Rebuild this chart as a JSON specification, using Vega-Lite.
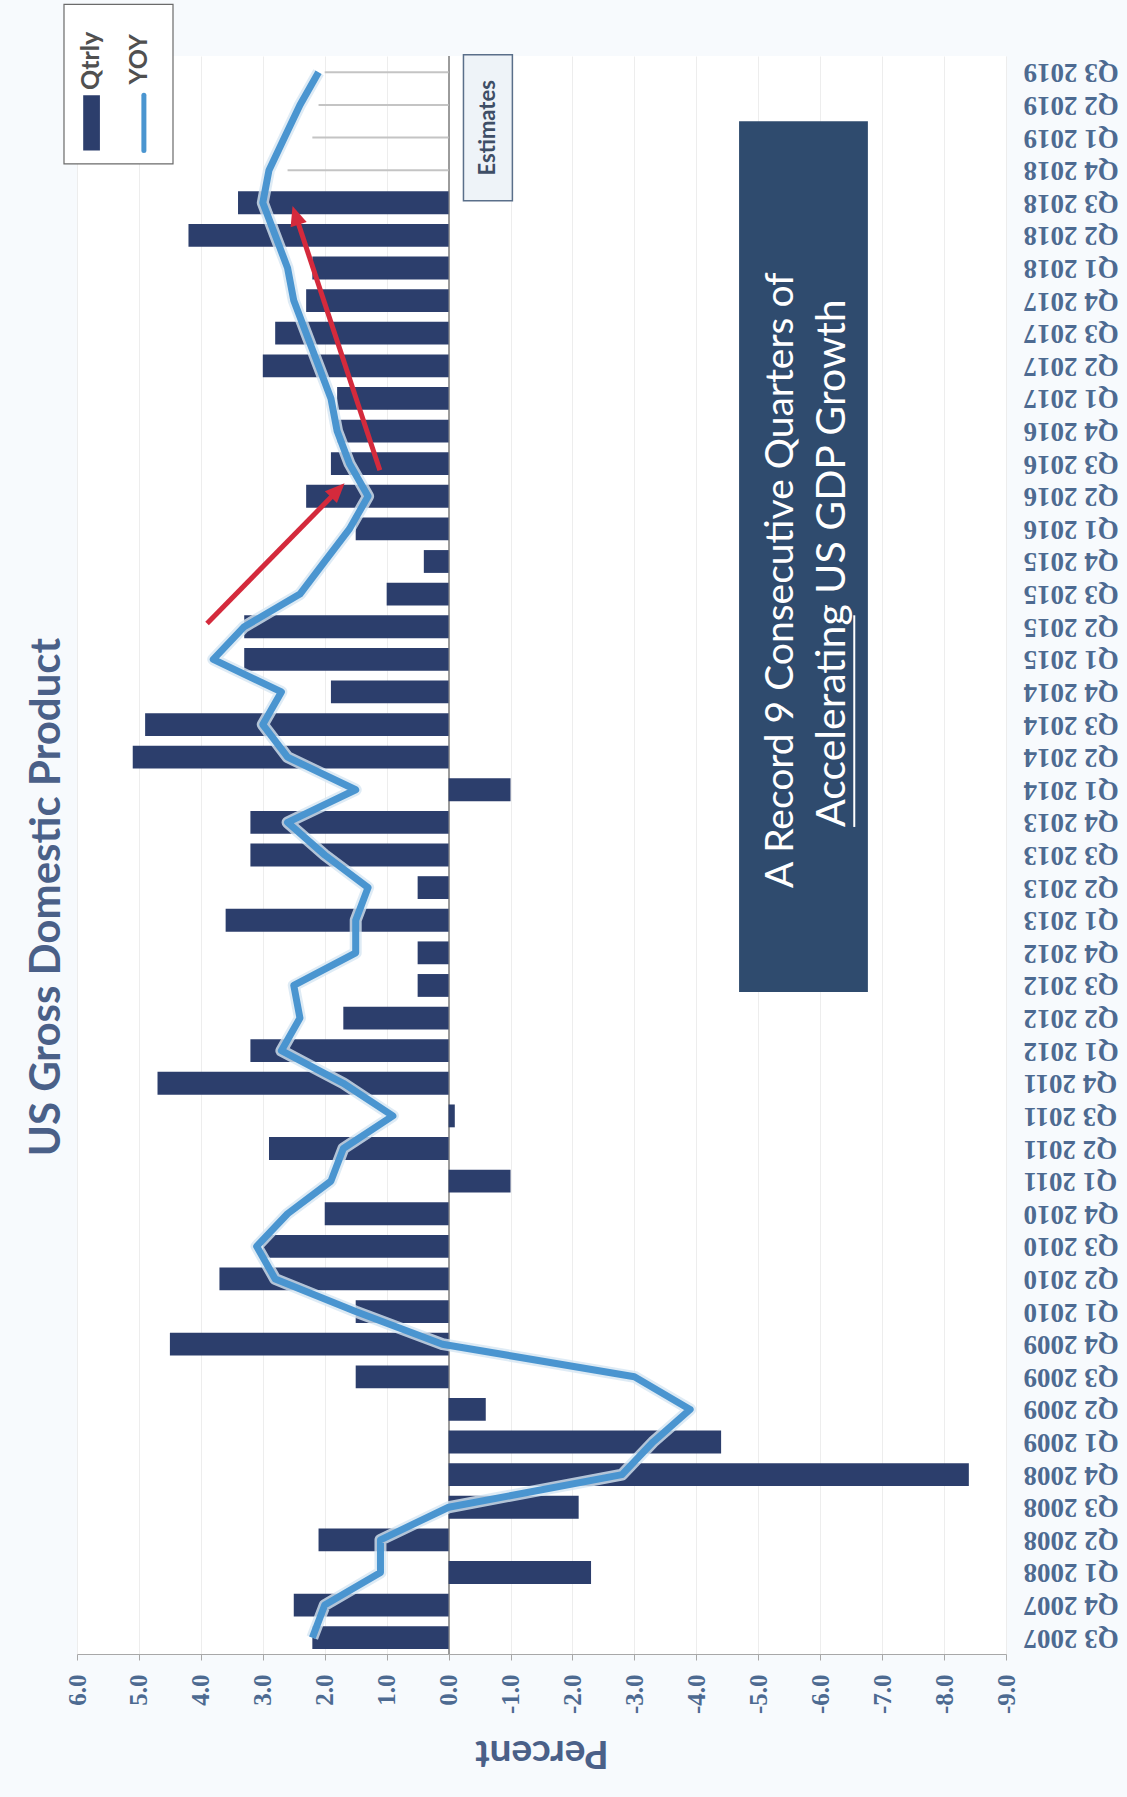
{
  "$schema": "https://vega.github.io/schema/vega-lite/v6.json",
  "width": 929,
  "height": 1598,
  "autosize": "none",
  "padding": {"left": 77, "top": 56, "right": 121, "bottom": 143},
  "background": "#F7FAFD",
  "config": {"view": {"fill": "white", "stroke": null}},
  "title": {
    "text": "US Gross Domestic Product",
    "orient": "left",
    "anchor": "middle",
    "font": "Lato",
    "fontSize": 42,
    "fontWeight": "bold",
    "color": "#4A6088",
    "offset": -6,
    "dx": -42
  },
  "datasets": {
    "gdp": [
      {"idx": 0, "quarter": "Q3 2007", "qtrly": 2.2, "yoy": 2.2},
      {"idx": 1, "quarter": "Q4 2007", "qtrly": 2.5, "yoy": 2.0},
      {"idx": 2, "quarter": "Q1 2008", "qtrly": -2.3, "yoy": 1.1},
      {"idx": 3, "quarter": "Q2 2008", "qtrly": 2.1, "yoy": 1.1},
      {"idx": 4, "quarter": "Q3 2008", "qtrly": -2.1, "yoy": 0.0},
      {"idx": 5, "quarter": "Q4 2008", "qtrly": -8.4, "yoy": -2.8},
      {"idx": 6, "quarter": "Q1 2009", "qtrly": -4.4, "yoy": -3.3},
      {"idx": 7, "quarter": "Q2 2009", "qtrly": -0.6, "yoy": -3.9},
      {"idx": 8, "quarter": "Q3 2009", "qtrly": 1.5, "yoy": -3.0},
      {"idx": 9, "quarter": "Q4 2009", "qtrly": 4.5, "yoy": 0.1},
      {"idx": 10, "quarter": "Q1 2010", "qtrly": 1.5, "yoy": 1.5},
      {"idx": 11, "quarter": "Q2 2010", "qtrly": 3.7, "yoy": 2.8},
      {"idx": 12, "quarter": "Q3 2010", "qtrly": 3.0, "yoy": 3.1},
      {"idx": 13, "quarter": "Q4 2010", "qtrly": 2.0, "yoy": 2.6},
      {"idx": 14, "quarter": "Q1 2011", "qtrly": -1.0, "yoy": 1.9},
      {"idx": 15, "quarter": "Q2 2011", "qtrly": 2.9, "yoy": 1.7},
      {"idx": 16, "quarter": "Q3 2011", "qtrly": -0.1, "yoy": 0.9},
      {"idx": 17, "quarter": "Q4 2011", "qtrly": 4.7, "yoy": 1.7},
      {"idx": 18, "quarter": "Q1 2012", "qtrly": 3.2, "yoy": 2.7},
      {"idx": 19, "quarter": "Q2 2012", "qtrly": 1.7, "yoy": 2.4},
      {"idx": 20, "quarter": "Q3 2012", "qtrly": 0.5, "yoy": 2.5},
      {"idx": 21, "quarter": "Q4 2012", "qtrly": 0.5, "yoy": 1.5},
      {"idx": 22, "quarter": "Q1 2013", "qtrly": 3.6, "yoy": 1.5},
      {"idx": 23, "quarter": "Q2 2013", "qtrly": 0.5, "yoy": 1.3},
      {"idx": 24, "quarter": "Q3 2013", "qtrly": 3.2, "yoy": 2.0},
      {"idx": 25, "quarter": "Q4 2013", "qtrly": 3.2, "yoy": 2.6},
      {"idx": 26, "quarter": "Q1 2014", "qtrly": -1.0, "yoy": 1.5},
      {"idx": 27, "quarter": "Q2 2014", "qtrly": 5.1, "yoy": 2.6},
      {"idx": 28, "quarter": "Q3 2014", "qtrly": 4.9, "yoy": 3.0},
      {"idx": 29, "quarter": "Q4 2014", "qtrly": 1.9, "yoy": 2.7},
      {"idx": 30, "quarter": "Q1 2015", "qtrly": 3.3, "yoy": 3.8},
      {"idx": 31, "quarter": "Q2 2015", "qtrly": 3.3, "yoy": 3.3},
      {"idx": 32, "quarter": "Q3 2015", "qtrly": 1.0, "yoy": 2.4},
      {"idx": 33, "quarter": "Q4 2015", "qtrly": 0.4, "yoy": 2.0},
      {"idx": 34, "quarter": "Q1 2016", "qtrly": 1.5, "yoy": 1.6},
      {"idx": 35, "quarter": "Q2 2016", "qtrly": 2.3, "yoy": 1.3},
      {"idx": 36, "quarter": "Q3 2016", "qtrly": 1.9, "yoy": 1.6},
      {"idx": 37, "quarter": "Q4 2016", "qtrly": 1.8, "yoy": 1.8},
      {"idx": 38, "quarter": "Q1 2017", "qtrly": 1.8, "yoy": 1.9},
      {"idx": 39, "quarter": "Q2 2017", "qtrly": 3.0, "yoy": 2.1},
      {"idx": 40, "quarter": "Q3 2017", "qtrly": 2.8, "yoy": 2.3},
      {"idx": 41, "quarter": "Q4 2017", "qtrly": 2.3, "yoy": 2.5},
      {"idx": 42, "quarter": "Q1 2018", "qtrly": 2.2, "yoy": 2.6},
      {"idx": 43, "quarter": "Q2 2018", "qtrly": 4.2, "yoy": 2.8},
      {"idx": 44, "quarter": "Q3 2018", "qtrly": 3.4, "yoy": 3.0},
      {"idx": 45, "quarter": "Q4 2018", "qtrly": null, "yoy": 2.9, "est": 2.6},
      {"idx": 46, "quarter": "Q1 2019", "qtrly": null, "yoy": 2.65, "est": 2.2},
      {"idx": 47, "quarter": "Q2 2019", "qtrly": null, "yoy": 2.4, "est": 2.1},
      {"idx": 48, "quarter": "Q3 2019", "qtrly": null, "yoy": 2.1, "est": 2.0}
    ]
  },
  "layer": [
    {
      "data": {"name": "gdp"},
      "layer": [
        {
          "mark": {"type": "rule", "color": "#9C9C9C", "strokeWidth": 1.2},
          "encoding": {
            "x": {"datum": 0, "type": "quantitative", "title": "Percent",
                  "scale": {"domain": [-9, 6], "reverse": true, "nice": false, "zero": false}}
          }
        },
        {
          "transform": [{"filter": "isValid(datum.est)"}],
          "mark": {"type": "rule", "color": "#C4C4C4", "strokeWidth": 2},
          "encoding": {
            "y": {"field": "quarter", "type": "nominal"},
            "x": {"field": "est", "type": "quantitative", "title": "Percent",
                  "scale": {"domain": [-9, 6], "reverse": true, "nice": false, "zero": false}},
            "x2": {"datum": 0}
          }
        },
        {
          "transform": [{"filter": "isValid(datum.qtrly)"}],
          "mark": {"type": "bar", "color": "#2C3E6C"},
          "encoding": {
            "y": {
              "field": "quarter",
              "type": "nominal",
              "scale": {
                "domain": ["Q3 2019", "Q2 2019", "Q1 2019", "Q4 2018", "Q3 2018", "Q2 2018", "Q1 2018",
                           "Q4 2017", "Q3 2017", "Q2 2017", "Q1 2017", "Q4 2016", "Q3 2016", "Q2 2016", "Q1 2016",
                           "Q4 2015", "Q3 2015", "Q2 2015", "Q1 2015", "Q4 2014", "Q3 2014", "Q2 2014", "Q1 2014",
                           "Q4 2013", "Q3 2013", "Q2 2013", "Q1 2013", "Q4 2012", "Q3 2012", "Q2 2012", "Q1 2012",
                           "Q4 2011", "Q3 2011", "Q2 2011", "Q1 2011", "Q4 2010", "Q3 2010", "Q2 2010", "Q1 2010",
                           "Q4 2009", "Q3 2009", "Q2 2009", "Q1 2009", "Q4 2008", "Q3 2008", "Q2 2008", "Q1 2008",
                           "Q4 2007", "Q3 2007"],
                "paddingInner": 0.3,
                "paddingOuter": 0.15
              },
              "axis": {
                "orient": "right",
                "title": null,
                "domain": false,
                "ticks": false,
                "labelAngle": 180,
                "labelAlign": "right",
                "labelBaseline": "middle",
                "labelPadding": 17,
                "labelFont": "Liberation Serif",
                "labelFontWeight": "bold",
                "labelFontSize": 27,
                "labelColor": "#4D6A91"
              }
            },
            "x": {
              "field": "qtrly",
              "type": "quantitative",
              "title": "Percent",
              "scale": {"domain": [-9, 6], "reverse": true, "nice": false, "zero": false},
              "axis": {
                "values": [-9, -8, -7, -6, -5, -4, -3, -2, -1, 0, 1, 2, 3, 4, 5, 6],
                "labelExpr": "replace(format(datum.value, '.1f'), '\u2212', '-')",
                "labelAngle": 270,
                "labelFont": "Liberation Serif",
                "labelFontWeight": "bold",
                "labelFontSize": 25,
                "labelColor": "#4D6A91",
                "labelPadding": 14,
                "tickSize": 6,
                "tickColor": "#A8A8A8",
                "domainColor": "#A8A8A8",
                "grid": true,
                "gridColor": "#EDEDED",
                "titleAngle": 180,
                "titleBaseline": "bottom",
                "titleFont": "Lato",
                "titleFontSize": 39,
                "titleFontWeight": "bold",
                "titleColor": "#4A6088",
                "titlePadding": 19
              }
            }
          }
        },
        {
          "mark": {"type": "line", "color": "#D6E6F3", "strokeWidth": 12, "strokeJoin": "round", "opacity": 0.8},
          "encoding": {
            "y": {"field": "quarter", "type": "nominal"},
            "x": {"field": "yoy", "type": "quantitative", "title": "Percent",
                  "scale": {"domain": [-9, 6], "reverse": true, "nice": false, "zero": false}},
            "order": {"field": "idx"}
          }
        },
        {
          "mark": {"type": "line", "color": "#4A95D0", "strokeWidth": 7, "strokeJoin": "round"},
          "encoding": {
            "y": {"field": "quarter", "type": "nominal"},
            "x": {"field": "yoy", "type": "quantitative", "title": "Percent",
                  "scale": {"domain": [-9, 6], "reverse": true, "nice": false, "zero": false}},
            "order": {"field": "idx"}
          }
        }
      ]
    },
    {
      "data": {"values": [{}]},
      "encoding": {
        "y": {"datum": 0, "type": "quantitative", "axis": null,
              "scale": {"domain": [-0.5, 48.5], "nice": false, "zero": false}}
      },
      "layer": [
        {
          "mark": {"type": "rect", "fill": "#2F4B6E"},
          "encoding": {
            "x": {"datum": -4.69, "type": "quantitative", "scale": {"domain": [-9, 6], "reverse": true, "nice": false, "zero": false}},
            "x2": {"datum": -6.77},
            "y": {"datum": 46.5, "type": "quantitative", "axis": null, "scale": {"domain": [-0.5, 48.5], "nice": false, "zero": false}},
            "y2": {"datum": 19.8}
          }
        },
        {
          "mark": {"type": "text", "text": "A Record 9 Consecutive Quarters of", "angle": 270, "align": "left", "baseline": "alphabetic",
                   "font": "Lato", "fontSize": 39, "color": "white"},
          "encoding": {
            "x": {"datum": -5.56, "type": "quantitative", "scale": {"domain": [-9, 6], "reverse": true, "nice": false, "zero": false}},
            "y": {"datum": 22.99, "type": "quantitative", "axis": null, "scale": {"domain": [-0.5, 48.5], "nice": false, "zero": false}}
          }
        },
        {
          "mark": {"type": "text", "text": "Accelerating US GDP Growth", "angle": 270, "align": "left", "baseline": "alphabetic",
                   "font": "Lato", "fontSize": 41, "color": "white"},
          "encoding": {
            "x": {"datum": -6.40, "type": "quantitative", "scale": {"domain": [-9, 6], "reverse": true, "nice": false, "zero": false}},
            "y": {"datum": 24.86, "type": "quantitative", "axis": null, "scale": {"domain": [-0.5, 48.5], "nice": false, "zero": false}}
          }
        },
        {
          "mark": {"type": "rule", "color": "white", "strokeWidth": 2},
          "encoding": {
            "x": {"datum": -6.55, "type": "quantitative", "scale": {"domain": [-9, 6], "reverse": true, "nice": false, "zero": false}},
            "y": {"datum": 24.86, "type": "quantitative", "axis": null, "scale": {"domain": [-0.5, 48.5], "nice": false, "zero": false}},
            "y2": {"datum": 31.35}
          }
        },
        {
          "mark": {"type": "rect", "fill": "#EEF3F8", "stroke": "#5A6F8A", "strokeWidth": 1.5},
          "encoding": {
            "x": {"datum": -0.24, "type": "quantitative", "scale": {"domain": [-9, 6], "reverse": true, "nice": false, "zero": false}},
            "x2": {"datum": -1.03},
            "y": {"datum": 48.54, "type": "quantitative", "axis": null, "scale": {"domain": [-0.5, 48.5], "nice": false, "zero": false}},
            "y2": {"datum": 44.06}
          }
        },
        {
          "mark": {"type": "text", "text": "Estimates", "angle": 270, "align": "center", "baseline": "middle",
                   "font": "Lato", "fontSize": 22, "fontWeight": "bold", "color": "#3E4E66"},
          "encoding": {
            "x": {"datum": -0.63, "type": "quantitative", "scale": {"domain": [-9, 6], "reverse": true, "nice": false, "zero": false}},
            "y": {"datum": 46.3, "type": "quantitative", "axis": null, "scale": {"domain": [-0.5, 48.5], "nice": false, "zero": false}}
          }
        },
        {
          "mark": {"type": "rule", "color": "#D42A3C", "strokeWidth": 5},
          "encoding": {
            "x": {"datum": 3.90, "type": "quantitative", "scale": {"domain": [-9, 6], "reverse": true, "nice": false, "zero": false}},
            "x2": {"datum": 1.78},
            "y": {"datum": 31.1, "type": "quantitative", "axis": null, "scale": {"domain": [-0.5, 48.5], "nice": false, "zero": false}},
            "y2": {"datum": 35.2}
          }
        },
        {
          "mark": {"type": "point", "shape": "M0,0L0.65,1.5L-0.65,1.5Z", "filled": true, "color": "#D42A3C", "opacity": 1, "size": 676, "angle": 44.4},
          "encoding": {
            "x": {"datum": 1.68, "type": "quantitative", "scale": {"domain": [-9, 6], "reverse": true, "nice": false, "zero": false}},
            "y": {"datum": 35.4, "type": "quantitative", "axis": null, "scale": {"domain": [-0.5, 48.5], "nice": false, "zero": false}}
          }
        },
        {
          "mark": {"type": "rule", "color": "#D42A3C", "strokeWidth": 5},
          "encoding": {
            "x": {"datum": 1.11, "type": "quantitative", "scale": {"domain": [-9, 6], "reverse": true, "nice": false, "zero": false}},
            "x2": {"datum": 2.45},
            "y": {"datum": 35.8, "type": "quantitative", "axis": null, "scale": {"domain": [-0.5, 48.5], "nice": false, "zero": false}},
            "y2": {"datum": 43.5}
          }
        },
        {
          "mark": {"type": "point", "shape": "M0,0L0.65,1.5L-0.65,1.5Z", "filled": true, "color": "#D42A3C", "opacity": 1, "size": 676, "angle": 341.7},
          "encoding": {
            "x": {"datum": 2.52, "type": "quantitative", "scale": {"domain": [-9, 6], "reverse": true, "nice": false, "zero": false}},
            "y": {"datum": 43.9, "type": "quantitative", "axis": null, "scale": {"domain": [-0.5, 48.5], "nice": false, "zero": false}}
          }
        },
        {
          "mark": {"type": "rect", "fill": "white", "stroke": "#6B6B6B", "strokeWidth": 1.2},
          "encoding": {
            "x": {"datum": 6.21, "type": "quantitative", "scale": {"domain": [-9, 6], "reverse": true, "nice": false, "zero": false}},
            "x2": {"datum": 4.45},
            "y": {"datum": 50.08, "type": "quantitative", "axis": null, "scale": {"domain": [-0.5, 48.5], "nice": false, "zero": false}},
            "y2": {"datum": 45.19}
          }
        },
        {
          "mark": {"type": "rect", "fill": "#2C3E6C"},
          "encoding": {
            "x": {"datum": 5.90, "type": "quantitative", "scale": {"domain": [-9, 6], "reverse": true, "nice": false, "zero": false}},
            "x2": {"datum": 5.63},
            "y": {"datum": 47.3, "type": "quantitative", "axis": null, "scale": {"domain": [-0.5, 48.5], "nice": false, "zero": false}},
            "y2": {"datum": 45.6}
          }
        },
        {
          "mark": {"type": "rule", "color": "#4A95D0", "strokeWidth": 5, "strokeCap": "round"},
          "encoding": {
            "x": {"datum": 4.92, "type": "quantitative", "scale": {"domain": [-9, 6], "reverse": true, "nice": false, "zero": false}},
            "y": {"datum": 47.3, "type": "quantitative", "axis": null, "scale": {"domain": [-0.5, 48.5], "nice": false, "zero": false}},
            "y2": {"datum": 45.6}
          }
        },
        {
          "mark": {"type": "text", "text": "Qtrly", "angle": 270, "align": "center", "baseline": "middle",
                   "font": "Lato", "fontSize": 25, "fontWeight": "bold", "color": "#505050"},
          "encoding": {
            "x": {"datum": 5.77, "type": "quantitative", "scale": {"domain": [-9, 6], "reverse": true, "nice": false, "zero": false}},
            "y": {"datum": 48.35, "type": "quantitative", "axis": null, "scale": {"domain": [-0.5, 48.5], "nice": false, "zero": false}}
          }
        },
        {
          "mark": {"type": "text", "text": "YOY", "angle": 270, "align": "center", "baseline": "middle",
                   "font": "Lato", "fontSize": 25, "fontWeight": "bold", "color": "#505050"},
          "encoding": {
            "x": {"datum": 5.0, "type": "quantitative", "scale": {"domain": [-9, 6], "reverse": true, "nice": false, "zero": false}},
            "y": {"datum": 48.4, "type": "quantitative", "axis": null, "scale": {"domain": [-0.5, 48.5], "nice": false, "zero": false}}
          }
        }
      ]
    }
  ],
  "resolve": {"scale": {"y": "independent"}}
}
